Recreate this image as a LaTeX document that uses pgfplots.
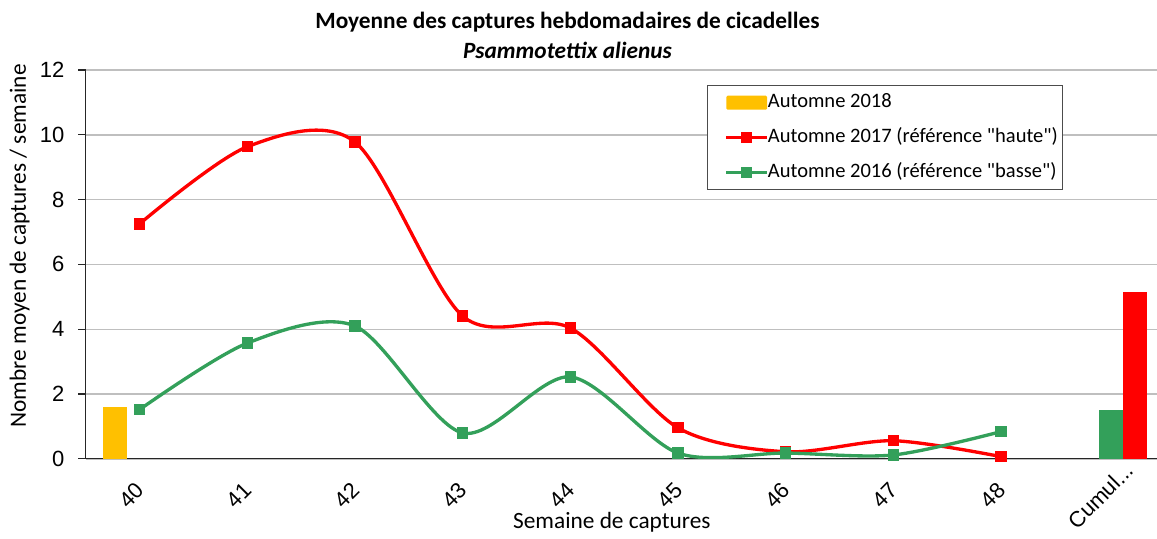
\documentclass[border=0pt]{standalone}
\usepackage{pgfplots}
\pgfplotsset{compat=1.18}
\usepackage{fontspec}
\setmainfont{Carlito}
\newfontfamily\legfont{Carlito}
\newfontfamily\arial{Liberation Sans}
\usetikzlibrary{calc}
\definecolor{cyellow}{HTML}{FFC000}
\definecolor{cred}{HTML}{FF0000}
\definecolor{cgreen}{RGB}{51,160,90}
\pgfplotsset{
  linelegend/.style={legend image code/.code={\path (0pt,0pt); \draw[##1, mark repeat=2, mark phase=2] plot coordinates {(9pt,0pt) (24pt,0pt) (39pt,0pt)};}},
  barlegend/.style={legend image code/.code={\path (0pt,0pt); \fill[cyellow, rounded corners=1pt] (9pt,-5.25pt) rectangle (39.75pt,5.25pt);}},
}
\begin{document}
\begin{tikzpicture}
\begin{axis}[name=ax, scale only axis, width=803.7pt, height=291.75pt,
  xmin=-0.5, xmax=9.45, ymin=0, ymax=12,
  ytick={0,2,...,12},
  xtick={0,...,9},
  xticklabels={40,41,42,43,44,45,46,47,48,{Cumul{.}{.}{.}}},
  minor xtick={-0.5,0.5,...,8.5},
  axis x line*=bottom, axis y line*=left,
  axis line style={black!85, line width=0.9pt, -},
  tick align=outside,
  major tick length=5.5pt, minor tick length=5.5pt,
  xtick style={draw=none},
  minor x tick style={black!85, line width=0.9pt},
  ytick style={black!85, line width=0.9pt},
  ymajorgrids, grid style={black!25, line width=1.1pt},
  /pgf/number format/assume math mode=true,
  yticklabel style={font=\arial\fontsize{16.5}{19}\selectfont, xshift=-7pt},
  xticklabel style={font=\arial\fontsize{16.5}{19}\selectfont, xshift=-6pt, yshift=-22pt, rotate=45, anchor=center},
  legend style={at={(rel axis cs:0.58,0.961)}, anchor=north west, draw=black!70, line width=0.8pt,
    font=\legfont\fontsize{15.4}{18}\selectfont, row sep=11.75pt, column sep=0pt, inner xsep=3.75pt, inner ysep=5.5pt,
    nodes={inner sep=0pt, text height=11pt, text depth=3.5pt}},
  legend cell align=left,
]
\addplot[ybar, bar width=0.22, bar shift=-0.23, fill=cyellow, draw=none, barlegend]
  coordinates {(0,1.59)};
\addlegendentry{Automne 2018}
\addplot[cred, line width=2.5pt, smooth, tension=0.5, mark=square*, mark size=3.9pt,
  mark options={line width=0pt}, linelegend]
  coordinates {(0,7.25) (1,9.63) (2,9.78) (3,4.41) (4,4.04) (5,0.96) (6,0.22) (7,0.56) (8,0.07)};
\addlegendentry{Automne 2017 (référence "haute")}
\addplot[cgreen, line width=2.5pt, smooth, tension=0.5, mark=square*, mark size=3.9pt,
  mark options={line width=0pt}, linelegend]
  coordinates {(0,1.52) (1,3.57) (2,4.1) (3,0.8) (4,2.53) (5,0.18) (6,0.18) (7,0.12) (8,0.84)};
\addlegendentry{Automne 2016 (référence "basse")}
\addplot[ybar, bar width=0.22, bar shift=0.02, fill=cgreen, draw=none, forget plot]
  coordinates {(9,1.52)};
\addplot[ybar, bar width=0.22, bar shift=0.245, fill=cred, draw=none, forget plot]
  coordinates {(9,5.16)};
\end{axis}
\node[font=\bfseries\fontsize{17.5}{21}\selectfont] at ($(ax.north west)+(361.4pt,36pt)$) {Moyenne des captures hebdomadaires de cicadelles};
\node[font=\bfseries\itshape\fontsize{17.5}{21}\selectfont] at ($(ax.north west)+(361.4pt,15pt)$) {Psammotettix alienus};
\node[font=\fontsize{17.5}{21}\selectfont] at ($(ax.south west)+(394.7pt,-47.25pt)$) {Semaine de captures};
\node[font=\fontsize{17.5}{21}\selectfont, rotate=90] at ($(ax.south west)+(-49.6pt,159.75pt)$) {Nombre moyen de captures / semaine};
\pgfresetboundingbox
\path[use as bounding box] ($(ax.south west)+(-64.3pt,-60pt)$) rectangle ($(ax.north east)+(0pt,52.5pt)$);
\end{tikzpicture}
\end{document}
